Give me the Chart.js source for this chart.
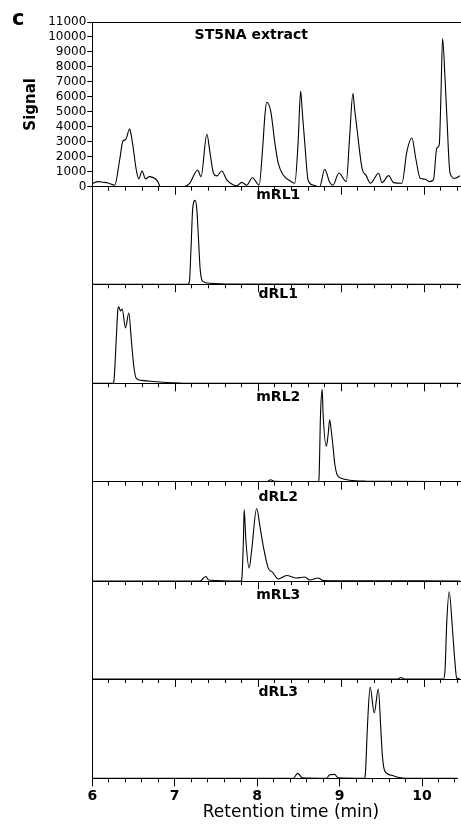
<!DOCTYPE html>
<html>
<head>
<meta charset="utf-8">
<script src="https://cdn.jsdelivr.net/npm/chart.js@4/dist/chart.umd.min.js"></script>
<style>
  html, body { margin: 0; padding: 0; background: #fff; }
  #wrap { position: relative; width: 461px; height: 828px; }
  #wrap canvas { position: absolute; left: 0; top: 0; }
</style>
</head>
<body>
<div id="wrap"></div>
<script>
// panel names, top to bottom
const panelNames = ['ST5NA extract', 'mRL1', 'dRL1', 'mRL2', 'dRL2', 'mRL3', 'dRL3'];

// ST5NA extract: retention time (min) / signal
const extractTime = [6.00, 6.07, 6.13, 6.19, 6.27, 6.33, 6.37, 6.40, 6.45, 6.47, 6.49, 6.53, 6.56, 6.60, 6.64, 6.69, 6.75, 6.79, 6.82, 7.10,
  7.17, 7.27, 7.31, 7.38, 7.42, 7.46, 7.50, 7.56, 7.62, 7.70, 7.74, 7.80, 7.86, 7.93, 8.01, 8.05, 8.08, 8.10, 8.15, 8.20,
  8.24, 8.30, 8.38, 8.44, 8.48, 8.51, 8.53, 8.56, 8.60, 8.66, 8.74, 8.80, 8.86, 8.90, 8.97, 9.06, 9.10, 9.14, 9.16, 9.19,
  9.25, 9.30, 9.35, 9.45, 9.49, 9.57, 9.63, 9.73, 9.79, 9.85, 9.90, 9.95, 10.01, 10.06, 10.11, 10.15, 10.18, 10.20, 10.22, 10.25,
  10.27, 10.31, 10.37, 10.43];
const extractSignal = [200, 340, 300, 250, 100, 1800, 3070, 3130, 3850, 3400, 2700, 1120, 520, 1050, 520, 670, 560, 340, 0, 0,
  200, 1120, 670, 3500, 2200, 900, 720, 1050, 450, 110, 60, 290, 100, 600, 100, 2400, 4800, 5640, 5030, 2910,
  1570, 780, 400, 230, 3000, 6380, 5000, 2910, 450, 110, 0, 1170, 300, 100, 920, 340, 3300, 6220, 5200, 3800,
  1230, 740, 230, 900, 270, 740, 270, 230, 2350, 3250, 1800, 560, 500, 340, 450, 2580, 2800, 6000, 9890, 7200,
  4900, 900, 560, 740];

// standards, signal in % of panel height
const mRL1Time = [6.00, 7.15, 7.17, 7.19, 7.21, 7.24, 7.26, 7.28, 7.30, 7.33, 7.42, 7.60, 10.43];
const mRL1Signal = [0, 0, 3, 38, 78, 86, 76, 45, 15, 3, 1, 0.3, 0];

const dRL1Time = [6.00, 6.25, 6.26, 6.29, 6.31, 6.32, 6.34, 6.36, 6.40, 6.44, 6.47, 6.50, 6.53, 6.59, 6.70, 6.85, 7.00, 7.20, 10.43];
const dRL1Signal = [0, 0, 2, 47, 76, 77, 73, 75, 56, 71, 44, 17, 5, 3, 2, 1, 0.5, 0, 0];

const mRL2Time = [6.00, 8.10, 8.15, 8.19, 8.72, 8.73, 8.75, 8.77, 8.78, 8.82, 8.84, 8.86, 8.88, 8.90, 8.92, 8.95, 9.00, 9.10, 9.30, 9.60, 10.43];
const mRL2Signal = [0, 0, 2, 0.5, 0, 2, 70, 94, 70, 36, 47, 63, 51, 36, 19, 7, 3.5, 1.5, 0.5, 0.3, 0];

const dRL2Time = [6.00, 7.30, 7.34, 7.37, 7.40, 7.79, 7.80, 7.82, 7.83, 7.85, 7.89, 7.92, 7.98, 8.02, 8.06, 8.12, 8.17, 8.24, 8.34, 8.46,
  8.56, 8.62, 8.72, 8.78, 9.00, 10.43];
const dRL2Signal = [0, 0, 3, 4.5, 1, 0, 1, 40, 72, 41, 13, 31, 73, 55, 35, 13, 9, 2, 5.5, 3,
  4, 1, 3, 0.5, 0.3, 0];

const mRL3Time = [6.00, 9.68, 9.72, 9.76, 10.23, 10.25, 10.27, 10.30, 10.34, 10.37, 10.39, 10.43];
const mRL3Signal = [0, 0, 1.5, 0, 0, 10, 57, 89, 50, 16, 1, 0];

const dRL3Time = [6.00, 8.44, 8.49, 8.55, 8.84, 8.88, 8.94, 8.98, 9.30, 9.31, 9.34, 9.37, 9.42, 9.47, 9.50, 9.52, 9.55, 9.63, 9.71, 9.80, 10.43];
const dRL3Signal = [0, 0, 5, 0.5, 0, 3.5, 4, 0.5, 0, 2, 56, 92, 66, 90, 50, 22, 7, 3, 1, 0, 0];

// axis ticks
const timeTicks = [6, 7, 8, 9, 10];
const signalTicks = [0, 1000, 2000, 3000, 4000, 5000, 6000, 7000, 8000, 9000, 10000, 11000];

const panels = [
  [extractTime, extractSignal],
  [mRL1Time, mRL1Signal],
  [dRL1Time, dRL1Signal],
  [mRL2Time, mRL2Signal],
  [dRL2Time, dRL2Signal],
  [mRL3Time, mRL3Signal],
  [dRL3Time, dRL3Signal]
];

// layout (pixels)
const W = 461, H = 828;
const plotLeft = 92.3, plotRight = 460;
const panelEdges = [22, 186.7, 284.3, 383.3, 481.7, 581, 679, 778.3];
const labelDx = [159, 186, 186, 186, 186, 186, 186];
const labelDy = [13, 9, 10, 14, 16, 14, 13];
const labelFont = 'bold 14px "DejaVu Sans"';

const wrap = document.getElementById('wrap');

// longer marks at whole minutes
const majorTicks = {
  id: 'majorTicks',
  afterDraw(chart) {
    const s = chart.scales.x, ctx = chart.ctx;
    ctx.save();
    ctx.strokeStyle = '#000';
    ctx.lineWidth = 1;
    timeTicks.forEach(t => {
      const px = Math.round(s.getPixelForValue(t) - 0.5) + 0.5;
      ctx.beginPath();
      ctx.moveTo(px, s.top);
      ctx.lineTo(px, s.top + 8);
      ctx.stroke();
    });
    ctx.restore();
  }
};

const captions = {
  id: 'captions',
  afterDraw(chart, args, opts) {
    const ctx = chart.ctx;
    ctx.save();
    ctx.fillStyle = '#000';
    (opts.items || []).forEach(it => {
      ctx.font = it.font;
      ctx.textAlign = it.align || 'center';
      ctx.textBaseline = it.baseline || 'middle';
      ctx.fillText(it.text, it.x, it.y);
    });
    ctx.restore();
  }
};

panels.forEach(([time, signal], i) => {
  const canvas = document.createElement('canvas');
  canvas.width = W;
  canvas.height = H;
  wrap.appendChild(canvas);

  const isTop = i === 0;
  const isLast = i === panels.length - 1;
  const top = panelEdges[i];
  const bottom = panelEdges[i + 1];
  const xAxisH = isLast ? 40 : 10;

  const items = [{
    text: panelNames[i], font: labelFont,
    x: plotLeft + labelDx[i], y: top + labelDy[i]
  }];
  if (isTop) {
    items.push({ text: 'c', font: 'bold 21px "DejaVu Sans"', x: 12, y: 25, align: 'left', baseline: 'alphabetic' });
  }
  if (isLast) {
    items.push({ text: 'Retention time (min)', font: '17px "DejaVu Sans"', x: 291, y: 813 });
  }

  const scales = {
    x: {
      type: 'linear',
      min: 6,
      max: 10.43,
      afterFit: s => { s.height = xAxisH; },
      border: { display: true, color: '#000', width: 1 },
      grid: { drawOnChartArea: false, drawTicks: true, tickLength: 4, tickColor: '#000', tickWidth: 1 },
      ticks: {
        display: isLast,
        stepSize: 0.2,
        autoSkip: false,
        includeBounds: false,
        maxRotation: 0,
        padding: 6,
        color: '#000',
        font: { family: 'DejaVu Sans', size: 14, weight: 'bold' },
        callback: v => {
          const r = Math.round(v * 10) / 10;
          return timeTicks.includes(r) ? String(r) : '';
        }
      }
    },
    y: {
      min: 0,
      max: isTop ? signalTicks[signalTicks.length - 1] : 100,
      afterFit: s => { s.width = plotLeft; },
      border: { display: true, color: '#000', width: 1 },
      grid: { drawOnChartArea: false, drawTicks: isTop, tickLength: 5, tickColor: '#000' },
      title: {
        display: isTop,
        text: 'Signal',
        color: '#000',
        font: { family: 'DejaVu Sans', size: 15, weight: 'bold' },
        padding: { top: 22, bottom: 0 }
      },
      ticks: {
        display: isTop,
        stepSize: 1000,
        autoSkip: false,
        padding: 1,
        color: '#000',
        font: { family: 'DejaVu Sans', size: 12 },
        callback: v => signalTicks.includes(v) ? String(v) : ''
      }
    }
  };
  if (isTop) {
    scales.xTop = {
      type: 'linear',
      position: 'top',
      min: 6,
      max: 10.43,
      afterFit: s => { s.height = 0; },
      border: { display: true, color: '#000', width: 1 },
      grid: { display: false, drawTicks: false },
      ticks: { display: false }
    };
  }

  new Chart(canvas, {
    type: 'line',
    data: {
      datasets: [{
        data: time.map((t, k) => ({ x: t, y: signal[k] })),
        borderColor: '#000',
        borderWidth: 1.1,
        pointRadius: 0,
        fill: false,
        cubicInterpolationMode: 'monotone'
      }]
    },
    options: {
      responsive: false,
      animation: false,
      events: [],
      layout: { padding: { top: top, bottom: H - bottom - xAxisH, left: 0, right: W - plotRight } },
      plugins: {
        legend: { display: false },
        tooltip: { enabled: false },
        captions: { items }
      },
      scales
    },
    plugins: [majorTicks, captions]
  });
});
</script>
</body>
</html>
